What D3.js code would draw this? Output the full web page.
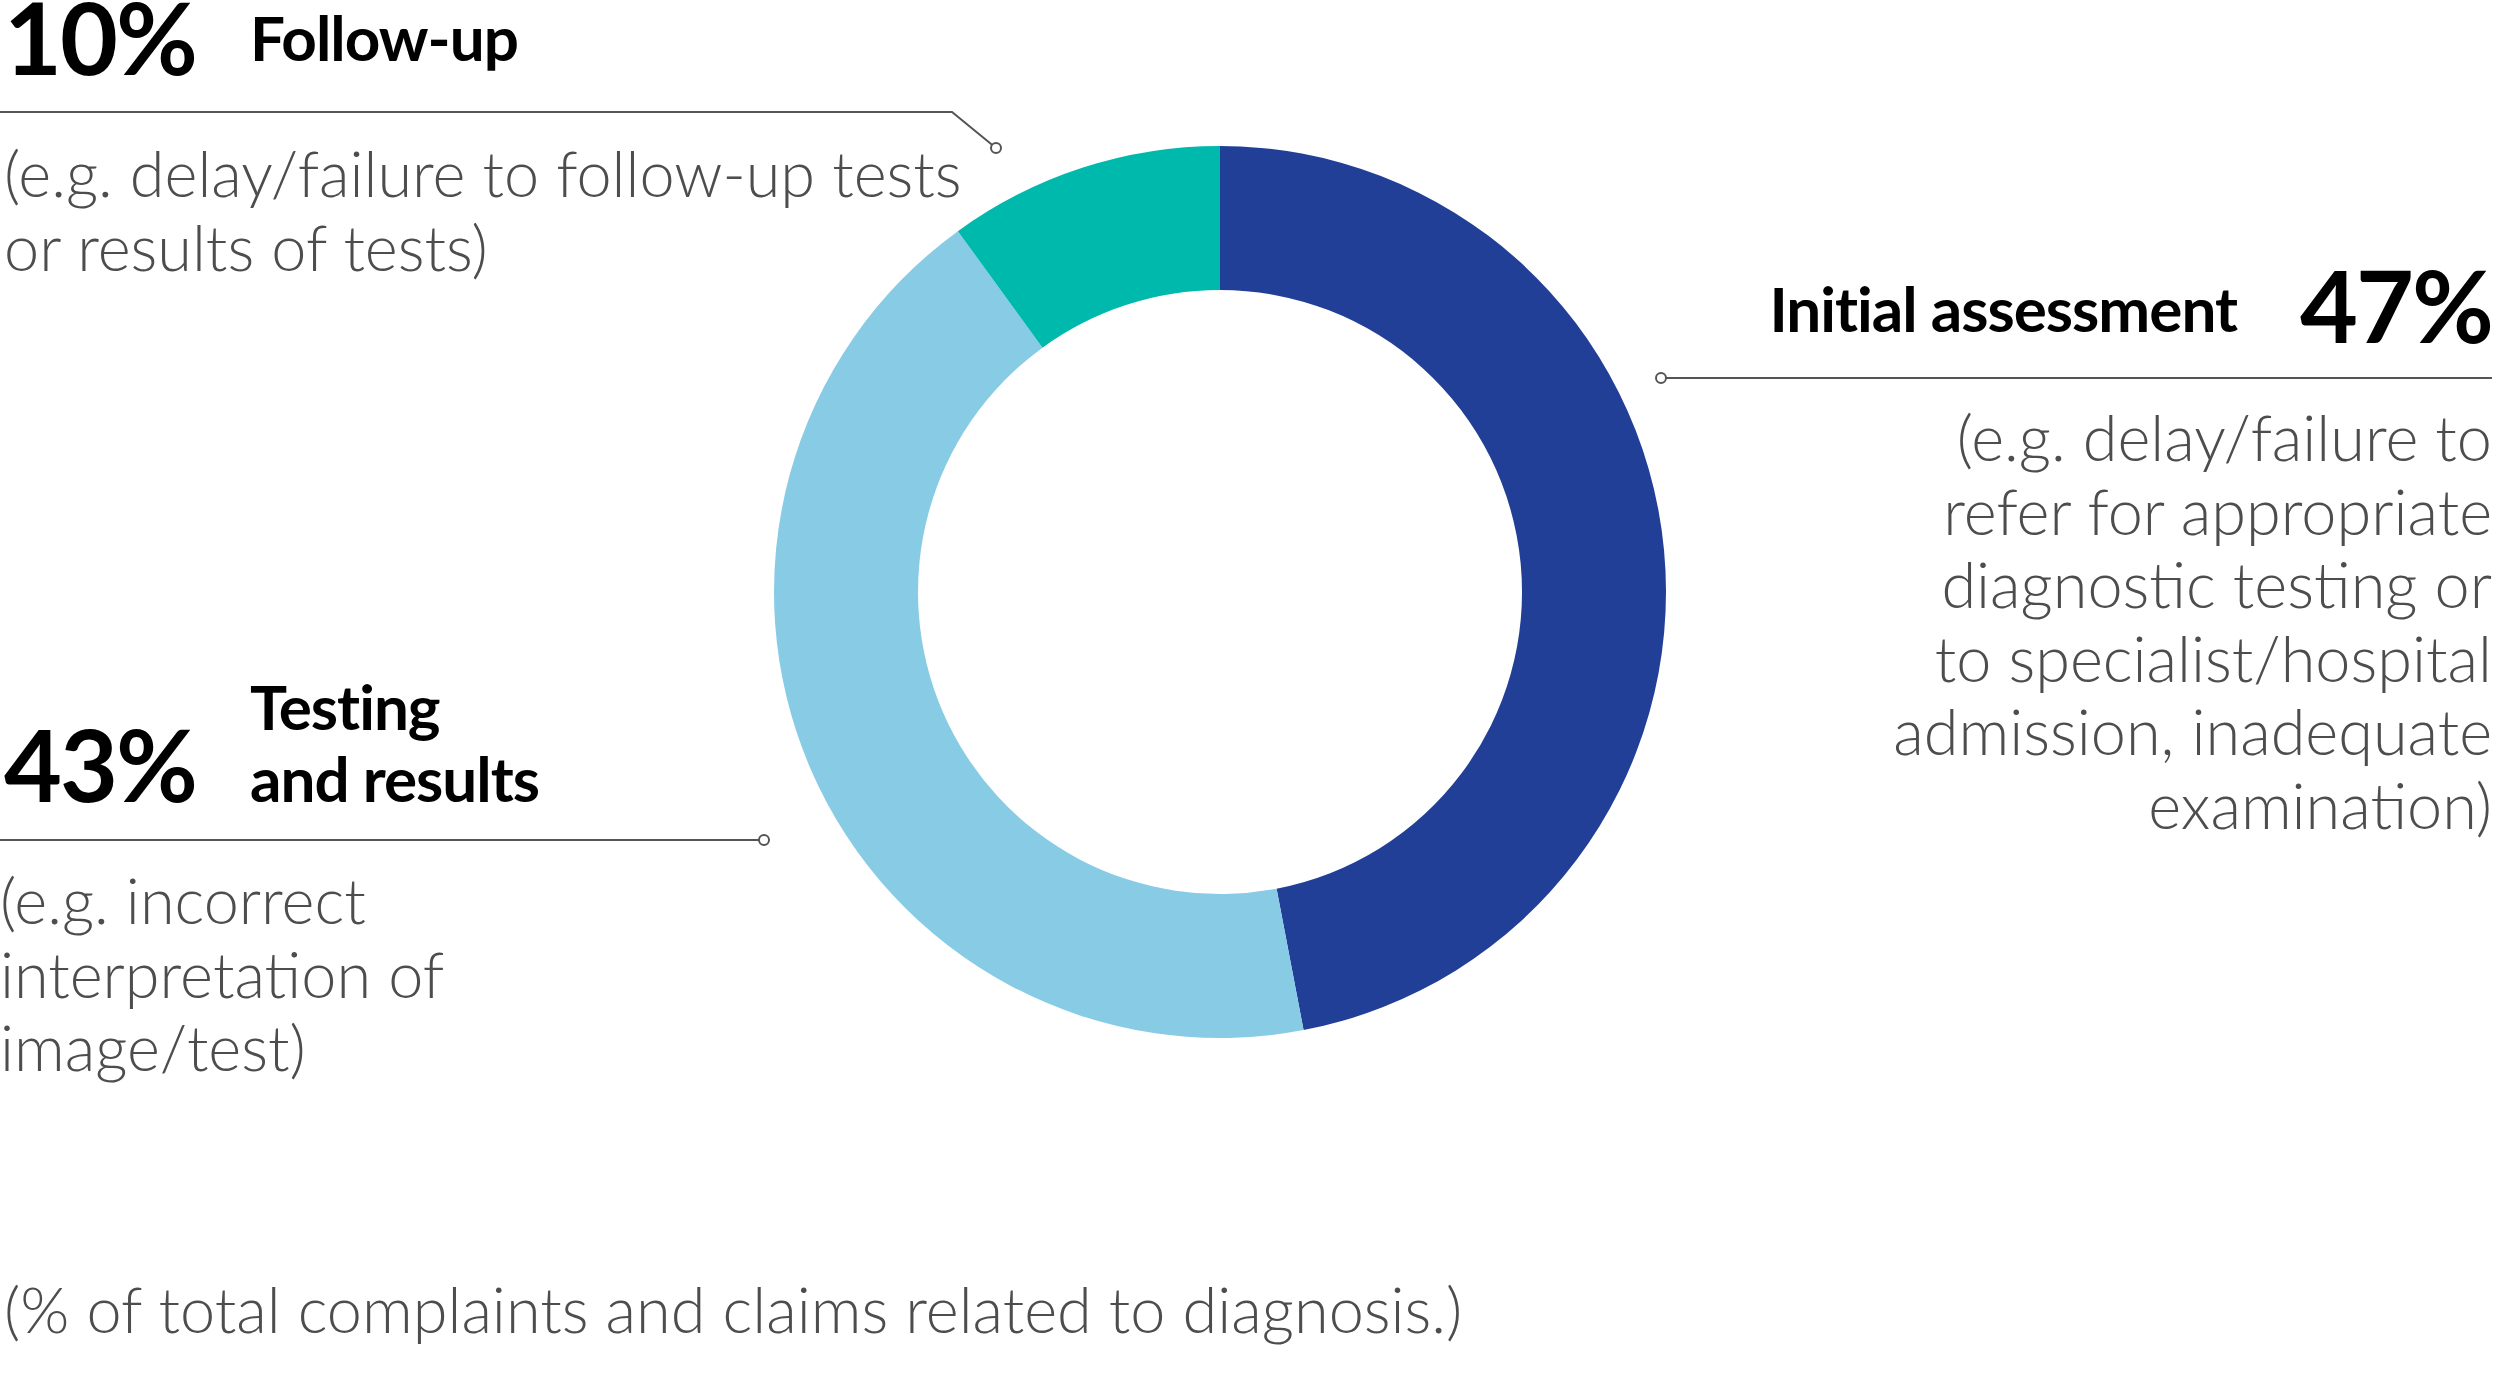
<!DOCTYPE html>
<meta charset="utf-8">
<title>diagnosis donut</title>
<style>
    body { margin: 0; background: #fff; }
    .title { font-family: "Lato", sans-serif; font-weight: 700; fill: #000; }
    .desc { font-family: "Lato", sans-serif; font-weight: 300; fill: #4d4d4d; }
</style>
<body>
<script src="https://cdn.jsdelivr.net/npm/d3@7"></script>
<script>
    var width = 2500;
    var height = 1375;

    // data
    var categories = ["Initial assessment", "Testing and results", "Follow-up"];
    var values = [47, 43, 10];
    var colors = ["#223f98", "#87cbe5", "#00b9ad"];
    var titleLines = [["Initial assessment"], ["Testing", "and results"], ["Follow-up"]];
    var descLines = [
        ["(e.g. delay/failure to", "refer for appropriate", "diagnostic testing or", "to specialist/hospital", "admission, inadequate", "examination)"],
        ["(e.g. incorrect", "interpretation of", "image/test)"],
        ["(e.g. delay/failure to follow-up tests", "or results of tests)"]
    ];
    var footnote = "(% of total complaints and claims related to diagnosis.)";

    var cx = 1220, cy = 592;
    var outerR = 446, innerR = 302;

    var svg = d3.select("body").append("svg")
        .attr("width", width)
        .attr("height", height);

    var pie = d3.pie().sort(null).value(function(d) { return d; });
    var arc = d3.arc().innerRadius(innerR).outerRadius(outerR);

    svg.append("g")
        .attr("transform", "translate(" + cx + "," + cy + ")")
        .selectAll("path")
        .data(pie(values))
        .enter().append("path")
        .attr("d", arc)
        .attr("fill", function(d, i) { return colors[i]; });

    // label layouts (hand placed like the original)
    var layouts = [
        { // initial assessment, right side
            pctX: 2492, pctY: 343, pctAnchor: "end",
            titleX: 2237, titleY: 332, titleAnchor: "end",
            line: [[1661, 378], [2492, 378]],
            descX: 2492, descY: 461, descAnchor: "end"
        },
        { // testing and results, left bottom
            pctX: 4, pctY: 802, pctAnchor: "start",
            titleX: 250, titleY: 730, titleAnchor: "start",
            line: [[764, 840], [0, 840]],
            descX: 0, descY: 924, descAnchor: "start"
        },
        { // follow-up, top left
            pctX: 4, pctY: 75, pctAnchor: "start",
            titleX: 250, titleY: 61, titleAnchor: "start",
            line: [[996, 148], [952, 112], [0, 112]],
            descX: 4, descY: 197, descAnchor: "start"
        }
    ];

    var lineH = 73.5;

    layouts.forEach(function(L, i) {
        var g = svg.append("g");

        g.append("text")
            .attr("class", "title")
            .attr("x", L.pctX)
            .attr("y", L.pctY)
            .attr("text-anchor", L.pctAnchor)
            .style("font-size", "100px")
            .style("letter-spacing", "-2px")
            .text(values[i] + "%");

        titleLines[i].forEach(function(t, k) {
            g.append("text")
                .attr("class", "title")
                .attr("x", L.titleX)
                .attr("y", L.titleY + k * 72)
                .attr("text-anchor", L.titleAnchor)
                .style("font-size", "62px")
                .style("letter-spacing", "-1px")
                .text(t);
        });

        g.append("path")
            .attr("d", d3.line()(L.line))
            .attr("fill", "none")
            .attr("stroke", "#555")
            .attr("stroke-width", 2);

        g.append("circle")
            .attr("cx", L.line[0][0])
            .attr("cy", L.line[0][1])
            .attr("r", 5)
            .attr("fill", "#fff")
            .attr("stroke", "#555")
            .attr("stroke-width", 2);

        descLines[i].forEach(function(t, k) {
            g.append("text")
                .attr("class", "desc")
                .attr("x", L.descX)
                .attr("y", L.descY + k * lineH)
                .attr("text-anchor", L.descAnchor)
                .style("font-size", "63px")
                .text(t);
        });
    });

    svg.append("text")
        .attr("class", "desc")
        .attr("x", 4)
        .attr("y", 1333)
        .style("font-size", "63px")
        .text(footnote);
</script>
</body>
